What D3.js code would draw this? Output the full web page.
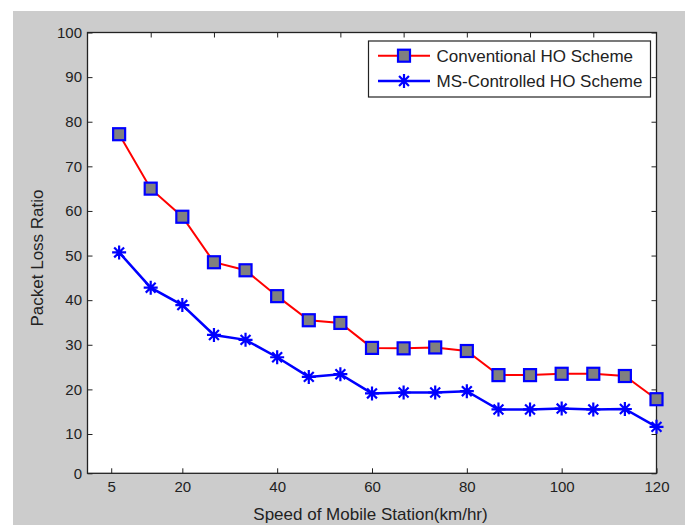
<!DOCTYPE html>
<html><head><meta charset="utf-8">
<script src="https://cdn.jsdelivr.net/npm/d3@7"></script>
<style>
html,body{margin:0;padding:0;background:#fff;}
text{font-family:"Liberation Sans",Arial,Helvetica,sans-serif;}
</style></head>
<body>
<svg id="chart" width="691" height="525"></svg>
<script>
const speeds = [6.67, 13.33, 20, 26.67, 33.33, 40, 46.67, 53.33, 60, 66.67, 73.33, 80, 86.67, 93.33, 100, 106.67, 113.33, 120];
const conventional = [77.2, 65.0, 58.7, 48.5, 46.7, 40.9, 35.5, 34.9, 29.3, 29.2, 29.4, 28.6, 23.2, 23.2, 23.5, 23.5, 23.0, 17.8];
const msControlled = [50.7, 42.8, 38.9, 32.2, 31.1, 27.2, 22.8, 23.4, 19.1, 19.3, 19.3, 19.6, 15.5, 15.5, 15.7, 15.5, 15.6, 11.6];
const xTicks = [5, 20, 40, 60, 80, 100, 120];
const xTopTicks = [13.33, 26.67, 40, 53.33, 66.67, 80, 93.33, 106.67];
const yTicks = [0, 10, 20, 30, 40, 50, 60, 70, 80, 90, 100];
const seriesNames = ["Conventional HO Scheme", "MS-Controlled HO Scheme"];
const xLabel = "Speed of Mobile Station(km/hr)";
const yLabel = "Packet Loss Ratio";

const svg = d3.select("#chart");
const L = 87.5, R = 656.5, T = 32.5, B = 473.3;

svg.append("rect").attr("x", 13).attr("y", 11).attr("width", 672).attr("height", 514).attr("fill", "#cccccc");
svg.append("rect").attr("x", L).attr("y", T).attr("width", R - L).attr("height", B - T).attr("fill", "#fff");

const x = d3.scaleLinear().domain([0, 120]).range([L, R]);
const y = d3.scaleLinear().domain([0, 10, 100]).range([B, 434, T]);

const tickFont = 15, labelFont = 17;
// bottom axis
const xAxis = d3.axisBottom(x).tickValues(xTicks).tickSizeInner(-5).tickSizeOuter(0).tickPadding(8.5).tickFormat(d3.format("d"));
const gx = svg.append("g").attr("transform", `translate(0,${B})`).call(xAxis);
// top axis (ticks only)
const gxt = svg.append("g").attr("transform", `translate(0,${T})`)
  .call(d3.axisTop(x).tickValues(xTopTicks).tickSizeInner(-5).tickSizeOuter(0).tickFormat(""));
// left axis
const gy = svg.append("g").attr("transform", `translate(${L},0)`)
  .call(d3.axisLeft(y).tickValues(yTicks).tickSizeInner(-5).tickSizeOuter(0).tickPadding(5.5).tickFormat(d3.format("d")));
// right axis ticks
const gyr = svg.append("g").attr("transform", `translate(${R},0)`)
  .call(d3.axisRight(y).tickValues(yTicks).tickSizeInner(-5).tickSizeOuter(0).tickFormat(""));

[gx, gxt, gy, gyr].forEach(g => {
  g.select(".domain").remove();
  g.selectAll(".tick line").attr("stroke", "#222").attr("stroke-width", 1);
  g.selectAll("text").attr("font-size", tickFont).attr("fill", "#222").style("font-family", '"Liberation Sans",Arial,sans-serif');
});
gx.selectAll("text").attr("dy", "0.71em");

// box
svg.append("rect").attr("x", L).attr("y", T).attr("width", R - L).attr("height", B - T)
  .attr("fill", "none").attr("stroke", "#222").attr("stroke-width", 1.3);

const line = d3.line().x(d => x(d[0])).y(d => y(d[1]));
const convData = speeds.map((s, i) => [s, conventional[i]]);
const msData = speeds.map((s, i) => [s, msControlled[i]]);

svg.append("path").datum(convData).attr("d", line).attr("fill", "none").attr("stroke", "#ff0000").attr("stroke-width", 2);
svg.append("path").datum(msData).attr("d", line).attr("fill", "none").attr("stroke", "#0000ff").attr("stroke-width", 2.5);

function square(g, cx, cy) {
  g.append("rect").attr("x", cx - 6).attr("y", cy - 6).attr("width", 12).attr("height", 12)
    .attr("fill", "#808080").attr("stroke", "#0000ff").attr("stroke-width", 2.2);
}
function star(g, cx, cy) {
  const r = 7, d = r * 0.707;
  const p = `M${cx - r},${cy}L${cx + r},${cy}M${cx},${cy - r}L${cx},${cy + r}M${cx - d},${cy - d}L${cx + d},${cy + d}M${cx - d},${cy + d}L${cx + d},${cy - d}`;
  g.append("path").attr("d", p).attr("stroke", "#0000ff").attr("stroke-width", 2.2).attr("fill", "none");
}
const gm1 = svg.append("g"), gm2 = svg.append("g");
convData.forEach(d => square(gm1, x(d[0]), y(d[1])));
msData.forEach(d => star(gm2, x(d[0]), y(d[1])));

// legend
const lg = svg.append("g");
lg.append("rect").attr("x", 368.5).attr("y", 41).attr("width", 282).attr("height", 56)
  .attr("fill", "#fff").attr("stroke", "#222").attr("stroke-width", 1.2);
const rows = [55.7, 81];
const colors = ["#ff0000", "#0000ff"];
rows.forEach((ry, i) => {
  lg.append("line").attr("x1", 378).attr("x2", 430).attr("y1", ry).attr("y2", ry)
    .attr("stroke", colors[i]).attr("stroke-width", i ? 2.5 : 2);
  if (i === 0) square(lg, 404, ry); else star(lg, 404, ry);
  lg.append("text").attr("x", 436.5).attr("y", ry).attr("dy", "0.35em")
    .attr("font-size", labelFont).attr("fill", "#222").text(seriesNames[i]);
});

// axis labels
svg.append("text").attr("x", 370.5).attr("y", 520).attr("text-anchor", "middle")
  .attr("font-size", labelFont).attr("fill", "#222").text(xLabel);
svg.append("text").attr("transform", `translate(43,258) rotate(-90)`).attr("text-anchor", "middle")
  .attr("font-size", labelFont).attr("fill", "#222").text(yLabel);
</script>
</body></html>
